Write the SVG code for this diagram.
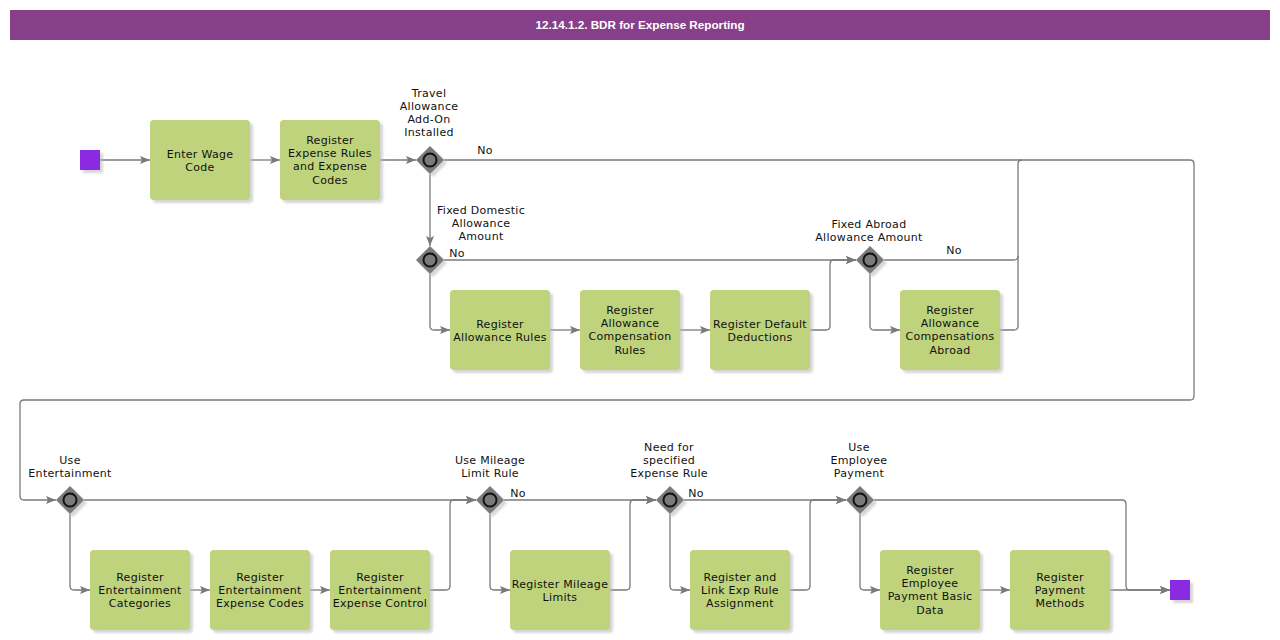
<svg xmlns="http://www.w3.org/2000/svg" width="1280" height="640" viewBox="0 0 1280 640">
<style>
.t{font-family:"DejaVu Sans",Verdana,sans-serif;font-size:11px;letter-spacing:0.3px;fill:#111;text-anchor:middle}
.box{fill:#BED37C}
.sh{fill:#bbb;opacity:0.6}
.gw{fill:#7a7a7a}
.gc{fill:#7a7a7a;stroke:#111;stroke-width:2}
.c{fill:none;stroke:#7a7a7a;stroke-width:1.3}
.ev{fill:#8A2BE2}
</style>
<defs>
<marker id="ar" markerUnits="userSpaceOnUse" markerWidth="12" markerHeight="10" refX="10" refY="4" orient="auto">
<path d="M0,0 L10,4 L0,8 L2,4 z" fill="#7a7a7a"/>
</marker>
<filter id="blur" x="-20%" y="-20%" width="140%" height="140%"><feGaussianBlur stdDeviation="1.2"/></filter>
</defs>
<rect width="1280" height="640" fill="#fff"/>
<g id="title">
<rect x="10" y="10" width="1260" height="30" fill="#873F8A"/>
<text x="640" y="29" style="font-family:'Liberation Sans',Arial,sans-serif;font-size:11.7px;font-weight:bold;fill:#fff;text-anchor:middle">12.14.1.2. BDR for Expense Reporting</text>
</g>
<g id="connectors" class="c">
<path class="c" d="M100,160 H150" marker-end="url(#ar)"/>
<path class="c" d="M250,160 H280" marker-end="url(#ar)"/>
<path class="c" d="M380,160 H416" marker-end="url(#ar)"/>
<path class="c" d="M444,160 H1190 Q1194,160 1194,164 V396 Q1194,400 1190,400 H24 Q20,400 20,404 V496 Q20,500 24,500 H56" marker-end="url(#ar)"/>
<path class="c" d="M430,174 V246" marker-end="url(#ar)"/>
<path class="c" d="M444,260 H856" marker-end="url(#ar)"/>
<path class="c" d="M430,274 V326 Q430,330 434,330 H450" marker-end="url(#ar)"/>
<path class="c" d="M550,330 H580" marker-end="url(#ar)"/>
<path class="c" d="M680,330 H710" marker-end="url(#ar)"/>
<path class="c" d="M810,330 H826 Q830,330 830,326 V264 Q830,260 834,260 H856" marker-end="url(#ar)"/>
<path class="c" d="M884,260 H1014 Q1018,260 1018,256 V164 Q1018,160 1022,160"/>
<path class="c" d="M870,274 V326 Q870,330 874,330 H900" marker-end="url(#ar)"/>
<path class="c" d="M1000,330 H1014 Q1018,330 1018,326 V256"/>
<path class="c" d="M84,500 H476" marker-end="url(#ar)"/>
<path class="c" d="M70,514 V586 Q70,590 74,590 H90" marker-end="url(#ar)"/>
<path class="c" d="M190,590 H210" marker-end="url(#ar)"/>
<path class="c" d="M310,590 H330" marker-end="url(#ar)"/>
<path class="c" d="M430,590 H446 Q450,590 450,586 V504 Q450,500 454,500 H476" marker-end="url(#ar)"/>
<path class="c" d="M504,500 H656" marker-end="url(#ar)"/>
<path class="c" d="M490,514 V586 Q490,590 494,590 H510" marker-end="url(#ar)"/>
<path class="c" d="M610,590 H626 Q630,590 630,586 V504 Q630,500 634,500 H656" marker-end="url(#ar)"/>
<path class="c" d="M684,500 H846" marker-end="url(#ar)"/>
<path class="c" d="M670,514 V586 Q670,590 674,590 H690" marker-end="url(#ar)"/>
<path class="c" d="M790,590 H806 Q810,590 810,586 V504 Q810,500 814,500 H846" marker-end="url(#ar)"/>
<path class="c" d="M874,500 H1122 Q1126,500 1126,504 V586 Q1126,590 1130,590 H1170" marker-end="url(#ar)"/>
<path class="c" d="M860,514 V586 Q860,590 864,590 H880" marker-end="url(#ar)"/>
<path class="c" d="M980,590 H1010" marker-end="url(#ar)"/>
<path class="c" d="M1110,590 H1170" marker-end="url(#ar)"/>
</g>
<g id="labels">
<text class="t" x="485" y="154">No</text>
<text class="t" x="457" y="257">No</text>
<text class="t" x="954" y="254">No</text>
<text class="t" x="518" y="497">No</text>
<text class="t" x="696" y="497">No</text>
</g>
<g id="start"><rect x="83" y="153" width="20" height="20" class="sh" filter="url(#blur)"/><rect x="80" y="150" width="20" height="20" class="ev"/></g>
<g id="end"><rect x="1173" y="583" width="20" height="20" class="sh" filter="url(#blur)"/><rect x="1170" y="580" width="20" height="20" class="ev"/></g>

<g id="n_enter_wage"><rect x="153" y="123" width="100" height="80" rx="4" class="sh" filter="url(#blur)"/><rect x="150" y="120" width="100" height="80" rx="4" class="box"/>
<text class="t" x="200" y="158">Enter Wage</text><text class="t" x="200" y="171">Code</text></g>
<g id="n_reg_exp_rules"><rect x="283" y="123" width="100" height="80" rx="4" class="sh" filter="url(#blur)"/><rect x="280" y="120" width="100" height="80" rx="4" class="box"/>
<text class="t" x="330" y="144">Register</text><text class="t" x="330" y="157">Expense Rules</text><text class="t" x="330" y="170">and Expense</text><text class="t" x="330" y="184">Codes</text></g>

<g id="g_travel"><polygon points="433,149 447,163 433,177 419,163" class="sh" filter="url(#blur)"/><polygon points="430,146 444,160 430,174 416,160" class="gw"/><circle cx="430" cy="160" r="6.5" class="gc"/>
<text class="t" x="429" y="97">Travel</text><text class="t" x="429" y="110">Allowance</text><text class="t" x="429" y="123">Add-On</text><text class="t" x="429" y="136">Installed</text></g>

<g id="g_domestic"><polygon points="433,249 447,263 433,277 419,263" class="sh" filter="url(#blur)"/><polygon points="430,246 444,260 430,274 416,260" class="gw"/><circle cx="430" cy="260" r="6.5" class="gc"/>
<text class="t" x="481" y="214">Fixed Domestic</text><text class="t" x="481" y="227">Allowance</text><text class="t" x="481" y="240">Amount</text></g>

<g id="n_allow_rules"><rect x="453" y="293" width="100" height="80" rx="4" class="sh" filter="url(#blur)"/><rect x="450" y="290" width="100" height="80" rx="4" class="box"/>
<text class="t" x="500" y="328">Register</text><text class="t" x="500" y="341">Allowance Rules</text></g>
<g id="n_allow_comp"><rect x="583" y="293" width="100" height="80" rx="4" class="sh" filter="url(#blur)"/><rect x="580" y="290" width="100" height="80" rx="4" class="box"/>
<text class="t" x="630" y="314">Register</text><text class="t" x="630" y="327">Allowance</text><text class="t" x="630" y="340">Compensation</text><text class="t" x="630" y="354">Rules</text></g>
<g id="n_default_ded"><rect x="713" y="293" width="100" height="80" rx="4" class="sh" filter="url(#blur)"/><rect x="710" y="290" width="100" height="80" rx="4" class="box"/>
<text class="t" x="760" y="328">Register Default</text><text class="t" x="760" y="341">Deductions</text></g>

<g id="g_abroad"><polygon points="873,249 887,263 873,277 859,263" class="sh" filter="url(#blur)"/><polygon points="870,246 884,260 870,274 856,260" class="gw"/><circle cx="870" cy="260" r="6.5" class="gc"/>
<text class="t" x="869" y="228">Fixed Abroad</text><text class="t" x="869" y="241">Allowance Amount</text></g>
<g id="n_allow_abroad"><rect x="903" y="293" width="100" height="80" rx="4" class="sh" filter="url(#blur)"/><rect x="900" y="290" width="100" height="80" rx="4" class="box"/>
<text class="t" x="950" y="314">Register</text><text class="t" x="950" y="327">Allowance</text><text class="t" x="950" y="340">Compensations</text><text class="t" x="950" y="354">Abroad</text></g>

<g id="g_entertain"><polygon points="73,489 87,503 73,517 59,503" class="sh" filter="url(#blur)"/><polygon points="70,486 84,500 70,514 56,500" class="gw"/><circle cx="70" cy="500" r="6.5" class="gc"/>
<text class="t" x="70" y="464">Use</text><text class="t" x="70" y="477">Entertainment</text></g>
<g id="n_ent_cat"><rect x="93" y="553" width="100" height="80" rx="4" class="sh" filter="url(#blur)"/><rect x="90" y="550" width="100" height="80" rx="4" class="box"/>
<text class="t" x="140" y="581">Register</text><text class="t" x="140" y="594">Entertainment</text><text class="t" x="140" y="607">Categories</text></g>
<g id="n_ent_codes"><rect x="213" y="553" width="100" height="80" rx="4" class="sh" filter="url(#blur)"/><rect x="210" y="550" width="100" height="80" rx="4" class="box"/>
<text class="t" x="260" y="581">Register</text><text class="t" x="260" y="594">Entertainment</text><text class="t" x="260" y="607">Expense Codes</text></g>
<g id="n_ent_ctrl"><rect x="333" y="553" width="100" height="80" rx="4" class="sh" filter="url(#blur)"/><rect x="330" y="550" width="100" height="80" rx="4" class="box"/>
<text class="t" x="380" y="581">Register</text><text class="t" x="380" y="594">Entertainment</text><text class="t" x="380" y="607">Expense Control</text></g>

<g id="g_mileage"><polygon points="493,489 507,503 493,517 479,503" class="sh" filter="url(#blur)"/><polygon points="490,486 504,500 490,514 476,500" class="gw"/><circle cx="490" cy="500" r="6.5" class="gc"/>
<text class="t" x="490" y="464">Use Mileage</text><text class="t" x="490" y="477">Limit Rule</text></g>
<g id="n_mileage"><rect x="513" y="553" width="100" height="80" rx="4" class="sh" filter="url(#blur)"/><rect x="510" y="550" width="100" height="80" rx="4" class="box"/>
<text class="t" x="560" y="588">Register Mileage</text><text class="t" x="560" y="601">Limits</text></g>

<g id="g_specified"><polygon points="673,489 687,503 673,517 659,503" class="sh" filter="url(#blur)"/><polygon points="670,486 684,500 670,514 656,500" class="gw"/><circle cx="670" cy="500" r="6.5" class="gc"/>
<text class="t" x="669" y="451">Need for</text><text class="t" x="669" y="464">specified</text><text class="t" x="669" y="477">Expense Rule</text></g>
<g id="n_link_rule"><rect x="693" y="553" width="100" height="80" rx="4" class="sh" filter="url(#blur)"/><rect x="690" y="550" width="100" height="80" rx="4" class="box"/>
<text class="t" x="740" y="581">Register and</text><text class="t" x="740" y="594">Link Exp Rule</text><text class="t" x="740" y="607">Assignment</text></g>

<g id="g_emp_pay"><polygon points="863,489 877,503 863,517 849,503" class="sh" filter="url(#blur)"/><polygon points="860,486 874,500 860,514 846,500" class="gw"/><circle cx="860" cy="500" r="6.5" class="gc"/>
<text class="t" x="859" y="451">Use</text><text class="t" x="859" y="464">Employee</text><text class="t" x="859" y="477">Payment</text></g>
<g id="n_emp_basic"><rect x="883" y="553" width="100" height="80" rx="4" class="sh" filter="url(#blur)"/><rect x="880" y="550" width="100" height="80" rx="4" class="box"/>
<text class="t" x="930" y="574">Register</text><text class="t" x="930" y="587">Employee</text><text class="t" x="930" y="600">Payment Basic</text><text class="t" x="930" y="614">Data</text></g>
<g id="n_pay_methods"><rect x="1013" y="553" width="100" height="80" rx="4" class="sh" filter="url(#blur)"/><rect x="1010" y="550" width="100" height="80" rx="4" class="box"/>
<text class="t" x="1060" y="581">Register</text><text class="t" x="1060" y="594">Payment</text><text class="t" x="1060" y="607">Methods</text></g>
</svg>
